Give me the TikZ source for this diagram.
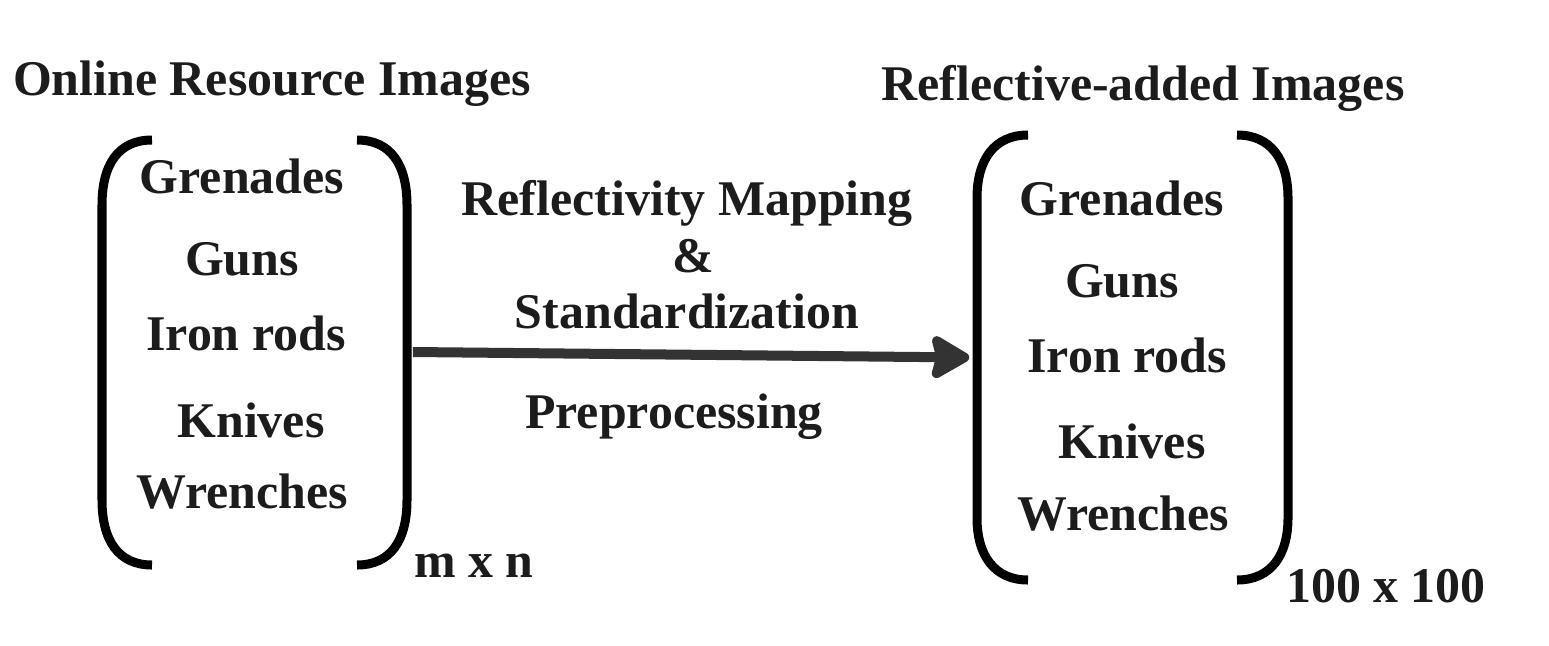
\documentclass[tikz,border=0pt]{standalone}
\usepackage{fontspec}
\setmainfont{Liberation Serif}
\usetikzlibrary{arrows.meta}
\definecolor{txt}{RGB}{28,28,28}
\definecolor{arr}{RGB}{51,51,51}
\tikzset{
  lbl/.style={anchor=base, inner sep=0pt, text=txt, font=\fontsize{14.2}{16}\selectfont\bfseries},
  brk/.style={line width=0.09cm, black},
  grp/.style={draw=none, inner sep=0pt, minimum width=#1},
  flow/.style={line width=0.1cm, arr, -{Stealth[length=0.44cm, width=0.5cm, inset=0.06cm, round]}, shorten >=0.02cm}
}
\begin{document}
\begin{tikzpicture}[x=0.01cm, y=-0.01cm]
\useasboundingbox (0,0) rectangle (1549,645);
% group frames (invisible)
\node[grp=3.14cm, minimum height=4.3cm] (L) at (255,352) {};
\node[grp=3.21cm, minimum height=4.49cm] (R) at (1132.5,357.5) {};
% titles
\node[lbl] (t1) at (272,95) {Online Resource Images};
\node[lbl] (t2) at (1143,100) {Reflective-added Images};
% left brackets
\draw[brk] (152,140) .. controls (118,140) and (102,165) .. (102,205) -- (102,500) .. controls (102,540) and (118,565) .. (152,565);
\draw[brk] (357,140) .. controls (391,140) and (407,165) .. (407,205) -- (407,500) .. controls (407,540) and (391,565) .. (357,565);
% right brackets
\draw[brk] (1028,135) .. controls (994,135) and (977,160) .. (977,198) -- (977,518) .. controls (977,555) and (994,580) .. (1028,580);
\draw[brk] (1237,135) .. controls (1271,135) and (1288,160) .. (1288,198) -- (1288,518) .. controls (1288,555) and (1271,580) .. (1237,580);
% left items
\node[lbl] (l1) at (242,193) {Grenades};
\node[lbl] (l2) at (242,275) {Guns};
\node[lbl] (l3) at (246,350) {Iron rods};
\node[lbl] (l4) at (251,437) {Knives};
\node[lbl] (l5) at (242,508) {Wrenches};
% right items
\node[lbl] (r1) at (1122,215) {Grenades};
\node[lbl] (r2) at (1122,297) {Guns};
\node[lbl] (r3) at (1127,372) {Iron rods};
\node[lbl] (r4) at (1132,458) {Knives};
\node[lbl] (r5) at (1123,530) {Wrenches};
% sizes
\node[lbl] (s1) at (474,577) {m x n};
\node[lbl] (s2) at (1386,602) {100 x 100};
% middle labels
\node[lbl] (m1) at (687,215) {Reflectivity Mapping};
\node[lbl] (m2) at (693,272) {\&};
\node[lbl] (m3) at (687,328) {Standardization};
\node[lbl] (m4) at (674,428) {Preprocessing};
% arrow
\draw[flow] (L.east) -- (R.west);
\end{tikzpicture}
\end{document}
